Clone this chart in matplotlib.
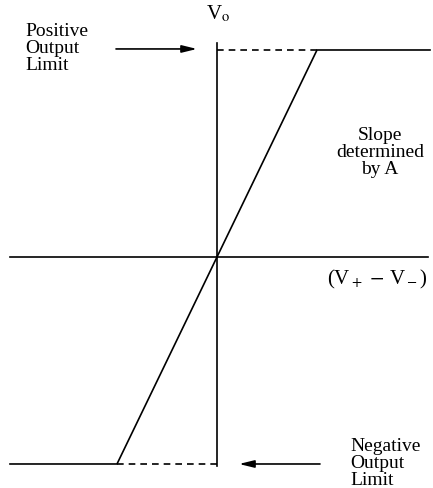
import matplotlib.pyplot as plt

plt.rcParams['mathtext.fontset'] = 'stix'

# Characteristic of the op-amp (normalised units)
vin = [-2.07, -1.0, 1.0, 2.13]
vout = [-1.0, -1.0, 1.0, 1.0]

pos_limit = 1.0
neg_limit = -1.0

fig = plt.figure(figsize=(4.33, 4.88), dpi=100)
ax = fig.add_axes([0, 0, 1, 1])
ax.set_xlim(-2.17, 2.16)
ax.set_ylim(-1.116, 1.2415)
ax.axis('off')

lw = 1.2
serif = 'Liberation Serif'

# Axes
ax.plot([-2.07, 2.11], [0, 0], color='black', lw=lw)
ax.plot([0, 0], [-1.01, 1.034], color='black', lw=lw)

# Transfer curve
ax.plot(vin, vout, color='black', lw=lw)

# Dashed limit lines
ax.plot([0, 1.0], [pos_limit, pos_limit], color='black', lw=lw, ls=(0, (4, 3)))
ax.plot([-1.0, 0], [neg_limit, neg_limit], color='black', lw=lw, ls=(0, (4, 3)))

# Arrows
head = '-|>,head_length=0.9,head_width=0.22'
ax.annotate('', xy=(-0.2, pos_limit + 0.005), xytext=(-1.01, pos_limit + 0.005),
            arrowprops=dict(arrowstyle=head, color='black', lw=lw, mutation_scale=10,
                            shrinkA=0, shrinkB=0))
ax.annotate('', xy=(0.22, neg_limit), xytext=(1.03, neg_limit),
            arrowprops=dict(arrowstyle=head, color='black', lw=lw, mutation_scale=10,
                            shrinkA=0, shrinkB=0))

# Text labels
fs = 14
ax.text(0.01, 1.172, r'V$_\mathrm{o}$', ha='center', va='center', fontsize=fs + 1,
        family=serif)
ax.text(-1.92, 1.005, 'Positive\nOutput\nLimit', ha='left', va='center', fontsize=fs,
        family=serif, linespacing=1.0)
ax.text(1.63, 0.505, 'Slope\ndetermined\nby A', ha='center', va='center', fontsize=fs,
        family=serif, linespacing=1.0)
ax.text(1.6, -0.11, r'(V$_+$ $-$ V$_-$)', ha='center', va='center', fontsize=fs + 1,
        family=serif)
ax.text(1.335, -1.0, 'Negative\nOutput\nLimit', ha='left', va='center', fontsize=fs,
        family=serif, linespacing=1.0)

fig.savefig('out.png', dpi=100, facecolor='white')
